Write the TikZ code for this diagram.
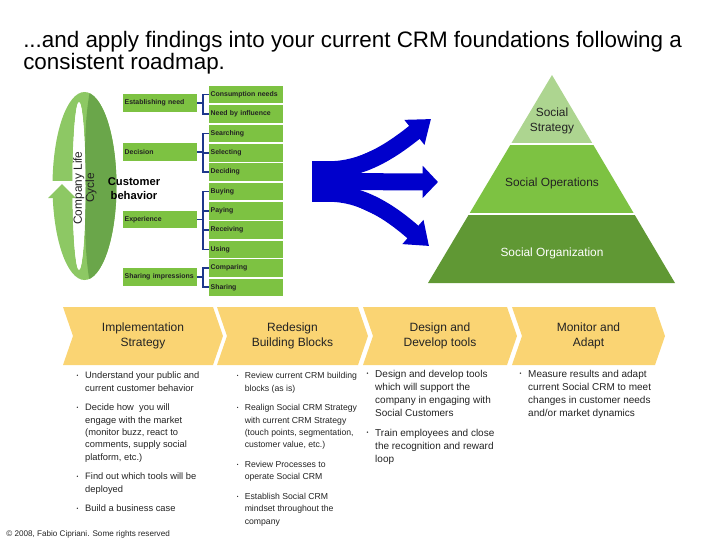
\documentclass[tikz,border=0pt]{standalone}
\usepackage{fontspec}
\setmainfont{Liberation Sans}
\usepackage{graphicx}
\usetikzlibrary{positioning, arrows.meta, shapes.symbols}

\definecolor{boxgreen}{RGB}{125,194,66}
\definecolor{ringlight}{RGB}{141,200,100}
\definecolor{ringdark}{RGB}{106,166,74}
\definecolor{pyrtop}{RGB}{173,213,144}
\definecolor{pyrmid}{RGB}{125,194,66}
\definecolor{pyrbot}{RGB}{96,152,52}
\definecolor{forkblue}{RGB}{0,0,204}
\definecolor{brkblue}{RGB}{30,55,140}
\definecolor{chevyellow}{RGB}{250,212,115}
\definecolor{bodytext}{RGB}{35,35,35}

\newcommand{\bul}{\raisebox{.3ex}{\scalebox{.55}{\textbullet}}}

\tikzset{
		heading/.style={
			anchor=north west,
			inner sep=0pt,
			align=left,
			font=\fontsize{16.8}{15}\selectfont
		},
		leaf/.style={
			rectangle,
			fill=boxgreen,
			text=bodytext,
			text width=53pt,
			minimum height=13.1pt,
			inner xsep=1.25pt,
			inner ysep=0pt,
			align=left,
			font=\fontsize{5.2}{6}\bfseries\selectfont
		},
		bracket/.style={draw=brkblue, line width=1.3pt},
		prong/.style={
			draw=forkblue,
			fill=forkblue,
			line width=12.75pt,
			-{Triangle[length=16pt, width=23pt]}
		},
		layer/.style={align=center, font=\fontsize{8.9}{11.5}\selectfont},
		phase/.style={
			signal,
			signal from=west,
			signal to=east,
			signal pointer angle=142,
			fill=chevyellow,
			text=bodytext,
			minimum height=43.5pt,
			inner sep=0pt,
			align=center,
			font=\fontsize{9}{10.9}\selectfont
		},
		bullets/.style={
			anchor=north west,
			inner sep=0pt,
			text=bodytext,
			font=#1
		},
		bullets/.default={\fontsize{7}{9.25}\selectfont}
	}

\begin{document}
\begin{tikzpicture}[x=0.75pt, y=-0.75pt, node distance=1pt]
		\useasboundingbox (0,0) rectangle (728,546);

		\node[heading] (title) at (23,31)
			{...and apply findings into your current CRM foundations following a\\consistent roadmap.};

		%life cycle ring:
		\fill[ringlight, even odd rule] (84.5,186) ellipse [x radius=32, y radius=94]
			(79,186) ellipse [x radius=6.5, y radius=84];
		\begin{scope}
			\clip (84.5,186) ellipse [x radius=32, y radius=94];
			\fill[ringdark] (91,85) .. controls (84,120) and (85,150) .. (85.5,186)
				.. controls (85,222) and (84,252) .. (91,290) -- (130,290) -- (130,85) -- cycle;
		\end{scope}
		\fill[white] (79,186) ellipse [x radius=6.5, y radius=84];
		\fill[white] (44,181) rectangle (78,197);
		\fill[ringlight] (48,198) -- (62,184) -- (76,198) -- cycle;
		\node[rotate=90, align=center, text=bodytext, font=\fontsize{8.9}{9.2}\selectfont] (cycle) at (85,188)
			{Company Life\\Cycle};
		\node[align=center, font=\fontsize{8.4}{10.5}\bfseries\selectfont] (behav) at (134,189)
			{Customer\\behavior};

		%behaviour boxes:
		\node[leaf] (est) at (160,103) {Establishing need};
		\node[leaf] (dec) at (160,152) {Decision};
		\node[leaf] (exp) at (160,219.5) {Experience};
		\node[leaf] (shimp) at (160,277) {Sharing impressions};

		\node[leaf] (cons) at (246,94.5) {Consumption needs};
		\node[leaf, below=of cons] (infl) {Need by influence};
		\node[leaf] (srch) at (246,133.5) {Searching};
		\node[leaf, below=of srch] (sel) {Selecting};
		\node[leaf, below=of sel] (decd) {Deciding};
		\node[leaf] (buy) at (246,191.5) {Buying};
		\node[leaf, below=of buy] (pay) {Paying};
		\node[leaf, below=of pay] (recv) {Receiving};
		\node[leaf, below=of recv] (use) {Using};
		\node[leaf] (cmp) at (246,268) {Comparing};
		\node[leaf, below=of cmp] (shr) {Sharing};

		%brackets:
		\coordinate (sp) at (203,0);
		\draw[bracket] (est.east) -- (est.east -| sp);
		\draw[bracket] (cons.west) -- (cons.west -| sp) -- (infl.west -| sp) -- (infl.west);
		\draw[bracket] (dec.east) -- (dec.east -| sp);
		\draw[bracket] (srch.west) -- (srch.west -| sp) -- (decd.west -| sp) -- (decd.west);
		\draw[bracket] (sel.west -| sp) -- (sel.west);
		\draw[bracket] (exp.east) -- (exp.east -| sp);
		\draw[bracket] (buy.west) -- (buy.west -| sp) -- (use.west -| sp) -- (use.west);
		\draw[bracket] (pay.west -| sp) -- (pay.west);
		\draw[bracket] (recv.west -| sp) -- (recv.west);
		\draw[bracket] (shimp.east) -- (shimp.east -| sp);
		\draw[bracket] (cmp.west) -- (cmp.west -| sp) -- (shr.west -| sp) -- (shr.west);

		%fork arrow:
		\node[fill=forkblue, minimum width=26.25pt, minimum height=30.75pt, inner sep=0pt] (fork) at (329.5,181.5) {};
		\coordinate (tipup) at (431,119);
		\coordinate (tipmid) at (438,182);
		\coordinate (tipdown) at (429,246);
		\draw[prong, -{Triangle[length=11.5pt, width=23.5pt]}] (fork.center) -- (tipmid);
		\draw[prong, line width=12.5pt] ([yshift=9pt]fork.center) .. controls (362,169.5) and (390,152) .. (tipup);
		\draw[prong, line width=12.5pt] ([yshift=-9pt]fork.center) .. controls (362,193.5) and (390,212) .. (tipdown);

		%pyramid:
		\coordinate (apex) at (552,75);
		\coordinate (baseL) at (428,283);
		\coordinate (baseR) at (675,283);
		\begin{scope}
			\clip (apex) -- (baseL) -- (baseR) -- cycle;
			\fill[pyrtop] (420,70) rectangle (680,142.5);
			\fill[pyrmid] (420,144.5) rectangle (680,213);
			\fill[pyrbot] (420,215) rectangle (680,290);
		\end{scope}
		\node[layer, text=bodytext] (strat) at (552,121) {Social\\Strategy};
		\node[layer, text=bodytext] (oper) at (552,183) {Social Operations};
		\node[layer, text=white] (orga) at (552,253) {Social Organization};

		%roadmap:
		\node[phase, minimum width=120pt] (ph1) at (143,336) {Implementation\\Strategy};
		\node[phase, minimum width=113.25pt] (ph2) at (292.5,336) {Redesign\\Building Blocks};
		\node[phase, minimum width=115.5pt] (ph3) at (440,336) {Design and\\Develop tools};
		\node[phase, minimum width=114.75pt] (ph4) at (588.5,336) {Monitor and\\Adapt};

		\node[bullets] (list1) at (76.3,370) {\begin{tabular}{@{}p{6.5pt}@{}l@{}}
			\bul & Understand your public and\\
			     & current customer behavior\\[5.5pt]
			\bul & Decide how\ \ you will\\
			     & engage with the market\\
			     & (monitor buzz, react to\\
			     & comments, supply social\\
			     & platform, etc.)\\[5.5pt]
			\bul & Find out which tools will be\\
			     & deployed\\[5.5pt]
			\bul & Build a business case
			\end{tabular}};
		\node[bullets={\fontsize{6.5}{9.25}\selectfont}] (list2) at (236.5,370) {\begin{tabular}{@{}p{6pt}@{}l@{}}
			\bul & Review current CRM building\\
			     & blocks (as is)\\[5.5pt]
			\bul & Realign Social CRM Strategy\\
			     & with current CRM Strategy\\
			     & (touch points, segmentation,\\
			     & customer value, etc.)\\[5.5pt]
			\bul & Review Processes to\\
			     & operate Social CRM\\[5.5pt]
			\bul & Establish Social CRM\\
			     & mindset throughout the\\
			     & company
			\end{tabular}};
		\node[bullets={\fontsize{7.5}{9.75}\selectfont}] (list3) at (366.3,368) {\begin{tabular}{@{}p{6.5pt}@{}l@{}}
			\bul & Design and develop tools\\
			     & which will support the\\
			     & company in engaging with\\
			     & Social Customers\\[5pt]
			\bul & Train employees and close\\
			     & the recognition and reward\\
			     & loop
			\end{tabular}};
		\node[bullets={\fontsize{7.5}{9.75}\selectfont}] (list4) at (519.3,368) {\begin{tabular}{@{}p{6.5pt}@{}l@{}}
			\bul & Measure results and adapt\\
			     & current Social CRM to meet\\
			     & changes in customer needs\\
			     & and/or market dynamics
			\end{tabular}};

		\node[anchor=west, inner sep=0pt, text=bodytext, font=\fontsize{6.1}{7}\selectfont] (note) at (6,534)
			{\textcopyright{} 2008, Fabio Cipriani. Some rights reserved};

	\end{tikzpicture}
\end{document}
